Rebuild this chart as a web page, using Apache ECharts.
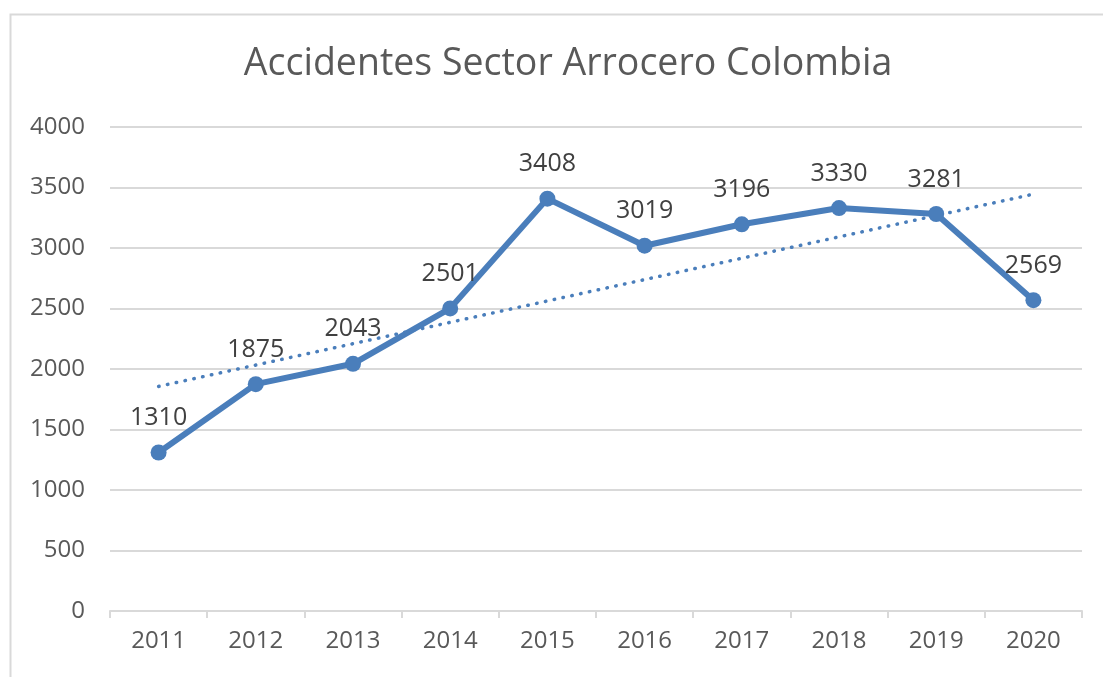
<!DOCTYPE html>
<html>
<head>
<meta charset="utf-8">
<script src="https://cdn.jsdelivr.net/npm/echarts@6/dist/echarts.min.js"></script>
<style>
html,body{margin:0;padding:0;background:#fff;}
#chart{width:1103px;height:677px;}
</style>
</head>
<body>
<div id="chart"></div>
<script>
const titleText = 'Accidentes Sector Arrocero Colombia';
const years = ['2011','2012','2013','2014','2015','2016','2017','2018','2019','2020'];
const accidents = [1310, 1875, 2043, 2501, 3408, 3019, 3196, 3330, 3281, 2569];
const trendEnds = [1856, 3445]; // at 2011 and 2020
const yTicks = [0, 500, 1000, 1500, 2000, 2500, 3000, 3500, 4000];

const blue = '#4a7ebb';
const grey = '#d9d9d9';
const font = 'Open Sans';

const chart = echarts.init(document.getElementById('chart'));
chart.setOption({
  backgroundColor: '#fff',
  animation: false,
  graphic: [{
    type: 'rect', left: 8, top: 12, silent: true,
    shape: { x: 0, y: 0, width: 1200, height: 800 },
    style: { fill: 'none', stroke: grey, lineWidth: 2 }
  }],
  title: {
    text: titleText,
    left: 563, top: 40, textAlign: 'center',
    textStyle: { fontFamily: font, fontSize: 37.5, fontWeight: 'normal', color: '#595959' }
  },
  grid: { left: 110, right: 21, top: 127, bottom: 66 },
  xAxis: {
    type: 'category', data: years, boundaryGap: true,
    axisLine: { lineStyle: { color: grey, width: 2 } },
    axisTick: { show: true, length: 7, lineStyle: { color: grey, width: 2 } },
    axisLabel: { fontFamily: font, fontSize: 24, color: '#595959', margin: 18 }
  },
  yAxis: {
    type: 'value', min: yTicks[0], max: yTicks[yTicks.length - 1], interval: 500,
    axisLine: { show: false }, axisTick: { show: false },
    splitLine: { lineStyle: { color: grey, width: 2 } },
    axisLabel: { fontFamily: font, fontSize: 24, color: '#595959', margin: 25,
      formatter: function (v) { return String(v); } }
  },
  series: [{
    type: 'line', data: accidents, z: 3,
    symbol: 'circle', symbolSize: 16,
    lineStyle: { color: blue, width: 6 },
    itemStyle: { color: blue },
    label: { show: true, position: 'top', distance: 14, fontFamily: font, fontSize: 25, color: '#404040' }
  }, {
    type: 'line', z: 2, symbol: 'none', connectNulls: true,
    data: [[years[0], trendEnds[0]], [years[years.length - 1], trendEnds[1]]],
    lineStyle: { color: blue, width: 3.5, type: [0.5, 8.5], cap: 'round' }
  }]
});
</script>
</body>
</html>
